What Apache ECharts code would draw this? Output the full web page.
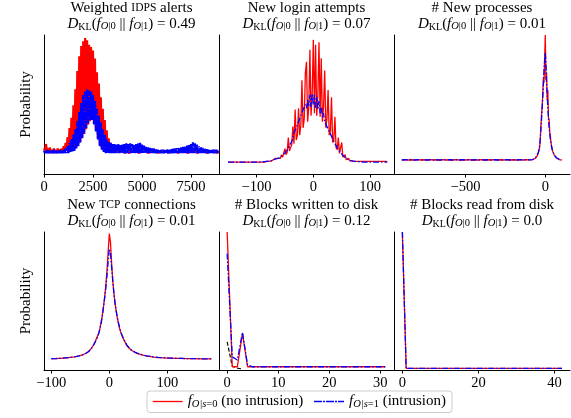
<!DOCTYPE html>
<html><head><meta charset="utf-8">
<script src="https://cdn.jsdelivr.net/npm/echarts@6/dist/echarts.min.js"></script>
<style>html,body{margin:0;padding:0;background:#fff}#c{width:571px;height:418px}</style>
</head><body><div id="c"></div>
<script>
// ---------------- DATA ----------------
// helper for regular bin positions (x grid only)
function bins(start, step, n){ const a=[]; for(let i=0;i<n;i++) a.push(start+step*i); return a; }

// Panel 1: Weighted IDPS alerts (bins of 50, 0..8900)
const p1X = bins(0, 50, 179);
const p1Red = [
 0.03,0.00,0.07,0.01,0.03,-0.01,0.04,0.00,0.02,-0.01,0.03,0.00,0.02,-0.01,0.03,0.00,0.02,0.00,0.03,0.00,
 0.05,0.00,0.08,0.01,0.13,0.00,0.21,0.01,0.30,0.02,0.41,0.03,0.55,0.05,0.71,0.07,0.84,0.09,0.93,0.12,
 0.97,0.16,1.00,0.20,0.98,0.24,0.94,0.27,0.92,0.28,0.89,0.25,0.82,0.19,0.70,0.12,0.60,0.06,0.48,0.03,
 0.38,0.01,0.28,0.00,0.19,0.00,0.12,0.00,0.08,0.00,0.05,0.00,0.03,0.00,0.02,0.00,0.02,0.00,0.01,0.00,
 0.01,0.00,0.01,-0.01,0.01,0.00,0.01,-0.01,0.01,0.00,0.01,0.00,0.01,-0.01,0.01,0.00,0.01,-0.01,0.01,0.00,
 0.01,0.00,0.01,-0.01,0.01,0.00,0.01,-0.01,0.01,0.00,0.01,0.00,0.01,-0.01,0.01,0.00,0.01,-0.01,0.01,0.00,
 0.01,0.00,0.01,-0.01,0.01,0.00,0.01,-0.01,0.01,0.00,0.01,0.00,0.01,-0.01,0.01,0.00,0.01,-0.01,0.01,0.00,
 0.01,0.00,0.01,-0.01,0.01,0.00,0.01,-0.01,0.01,0.00,0.01,0.00,0.01,-0.01,0.01,0.00,0.01,-0.01,0.01,0.00,
 0.01,0.00,0.01,-0.01,0.01,0.00,0.01,-0.01,0.01,0.00,0.01,0.00,0.01,-0.01,0.01,0.00,0.01,-0.01,0.01
];
const p1Blue = [
 0.01,-0.01,0.01,-0.01,0.02,-0.01,0.01,-0.01,0.01,-0.01,0.02,-0.01,0.01,-0.01,0.01,-0.01,0.02,-0.01,0.01,-0.01,
 0.02,-0.01,0.03,-0.01,0.05,-0.01,0.08,0.00,0.11,0.00,0.15,0.01,0.20,0.03,0.27,0.05,0.35,0.08,0.43,0.12,
 0.50,0.16,0.53,0.21,0.55,0.25,0.54,0.28,0.53,0.28,0.50,0.24,0.45,0.18,0.38,0.11,0.32,0.05,0.26,0.02,
 0.20,0.00,0.15,-0.01,0.11,-0.01,0.09,-0.01,0.08,-0.01,0.07,-0.01,0.07,-0.01,0.065,-0.01,0.07,-0.01,0.06,-0.01,
 0.065,-0.01,0.07,-0.01,0.075,-0.01,0.07,-0.01,0.075,-0.01,0.07,-0.01,0.065,-0.01,0.07,-0.01,0.075,-0.01,0.08,-0.01,
 0.065,-0.01,0.055,-0.01,0.045,-0.01,0.04,-0.01,0.035,-0.01,0.03,-0.01,0.03,-0.01,0.025,-0.01,0.02,-0.01,0.018,-0.01,
 0.02,-0.01,0.018,-0.01,0.02,-0.01,0.022,-0.01,0.02,-0.01,0.025,-0.01,0.028,-0.01,0.03,-0.01,0.032,-0.01,0.035,-0.01,
 0.04,-0.01,0.045,-0.01,0.05,-0.01,0.055,-0.01,0.06,-0.01,0.07,-0.01,0.085,-0.01,0.075,-0.01,0.065,-0.01,0.05,-0.01,
 0.045,-0.01,0.035,-0.01,0.03,-0.01,0.025,-0.01,0.02,-0.01,0.02,-0.01,0.018,-0.01,0.02,-0.01,0.02,-0.01,0.02
];

// Panel 2: New login attempts (bins of 2, -150..130)
const p2X = bins(-150, 2, 141);
const p2Red = [
 0.00,0.01,0.00,0.005,0.00,0.01,0.00,0.005,0.00,0.01,0.00,0.005,0.00,0.01,0.00,0.005,0.00,0.01,0.00,0.005,
 0.00,0.01,0.00,0.005,0.00,0.01,0.00,0.005,0.00,0.01,0.00,0.005,0.00,0.01,0.005,0.01,0.005,0.015,0.01,0.015,
 0.02,0.01,0.03,0.02,0.03,0.04,0.03,0.06,0.04,0.05,
 0.11,0.06,0.08,0.20,0.09,0.12,0.14,0.29,0.15,0.43,
 0.18,0.22,0.44,0.22,0.30,0.67,0.28,0.35,0.73,0.82,
 0.33,0.45,0.92,0.38,0.55,1.00,0.40,0.96,0.38,0.55,
 0.98,0.37,0.85,0.33,0.45,0.75,0.28,0.35,0.59,0.22,
 0.25,0.53,0.16,0.18,0.37,0.12,0.10,0.20,0.07,0.06,
 0.16,0.04,0.04,0.06,0.02,0.02,0.03,0.01,0.01,0.01,
 0.01,0.005,0.00,0.005,0.00,0.005,0.00,0.005,0.00,0.005,0.00,0.005,0.00,0.005,0.00,0.005,
 0.00,0.005,0.00,0.005,0.00,0.005,0.00,0.005,0.00,0.005,0.00,0.005,0.00,0.005,0.00
];
const p2Blue = [
 0.00,0.003,0.00,0.003,0.00,0.003,0.00,0.003,0.00,0.003,0.00,0.003,0.00,0.003,0.00,0.003,0.00,0.003,0.00,0.003,
 0.00,0.003,0.00,0.003,0.00,0.003,0.00,0.003,0.00,0.004,0.002,0.005,0.004,0.006,0.006,0.01,0.008,0.012,0.01,0.015,
 0.02,0.02,0.025,0.03,0.03,0.035,0.04,0.05,0.055,0.065,
 0.075,0.09,0.10,0.12,0.13,0.15,0.17,0.19,0.24,0.24,
 0.28,0.29,0.33,0.34,0.38,0.39,0.43,0.42,0.47,0.44,
 0.51,0.46,0.55,0.45,0.56,0.47,0.55,0.44,0.53,0.43,
 0.50,0.40,0.45,0.37,0.40,0.33,0.34,0.29,0.28,0.25,
 0.24,0.21,0.19,0.17,0.15,0.14,0.12,0.11,0.09,0.08,
 0.065,0.055,0.045,0.035,0.03,0.025,0.02,0.015,0.012,0.01,
 0.008,0.006,0.005,0.004,0.003,0.003,0.002,0.003,0.00,0.003,0.00,0.003,0.00,0.003,0.00,0.003,
 0.00,0.003,0.00,0.003,0.00,0.003,0.00,0.003,0.00,0.003,0.00,0.003,0.00,0.003,0.00
];

// Panel 3: # New processes (tail bins of 20, core bins of 4)
const p3X = bins(-900, 20, 42).concat(bins(-76, 4, 46));
const p3Red = [
 0.00,0.003,0.00,0.002,0.00,0.003,0.00,0.002,0.00,0.003,0.00,0.002,0.00,0.003,0.00,0.002,0.00,0.003,0.00,0.002,
 0.00,0.003,0.00,0.002,0.00,0.003,0.00,0.002,0.00,0.003,0.00,0.002,0.00,0.003,0.00,0.002,0.00,0.003,0.00,0.002,0.001,0.003,
 0.004,0.006,0.008,0.012,0.016,0.022,0.03,0.04,0.056,0.075,
 0.10,0.15,0.26,0.36,0.42,0.52,0.66,0.62,0.82,1.00,
 0.64,0.70,0.48,0.56,0.34,0.32,0.22,0.19,0.14,0.11,
 0.085,0.065,0.05,0.04,0.03,0.024,0.018,0.014,0.01,0.007,
 0.005,0.003,0.002,0.001,0.001,0.00
];
const p3Blue = [
 0.00,0.002,0.00,0.002,0.00,0.002,0.00,0.002,0.00,0.002,0.00,0.002,0.00,0.002,0.00,0.002,0.00,0.002,0.00,0.002,
 0.00,0.002,0.00,0.002,0.00,0.002,0.00,0.002,0.00,0.002,0.00,0.002,0.00,0.002,0.00,0.002,0.00,0.002,0.00,0.002,0.001,0.003,
 0.005,0.007,0.01,0.014,0.02,0.026,0.034,0.045,0.06,0.08,
 0.11,0.16,0.24,0.31,0.40,0.50,0.60,0.72,0.80,0.86,
 0.78,0.62,0.52,0.42,0.33,0.26,0.21,0.16,0.13,0.10,
 0.08,0.065,0.052,0.042,0.034,0.027,0.021,0.016,0.012,0.009,
 0.006,0.004,0.003,0.002,0.001,0.00
];

// Panel 4: New TCP connections
const p4X = bins(-100, 4, 16).concat(bins(-38, 2, 40), bins(44, 4, 34));
const p4Red = [
 0.004,0.006,0.005,0.008,0.007,0.01,0.012,0.012,0.015,0.018,0.02,0.024,0.028,0.034,0.04,0.05,
 0.055,0.062,0.07,0.08,0.095,0.11,0.12,0.145,0.16,0.19,
 0.21,0.25,0.30,0.35,0.42,0.50,0.59,0.71,0.86,1.00,
 0.93,0.76,0.62,0.52,0.44,0.38,0.32,0.28,0.24,0.21,
 0.19,0.165,0.15,0.13,0.11,0.10,0.09,0.08,0.072,0.066,
 0.056,0.048,0.042,0.036,0.031,0.027,0.024,0.021,0.018,0.016,
 0.014,0.013,0.012,0.011,0.01,0.009,0.009,0.008,0.008,0.007,
 0.007,0.006,0.006,0.006,0.005,0.005,0.005,0.004,0.004,0.004,
 0.004,0.003,0.003,0.003
];
const p4Blue = [
 0.005,0.005,0.006,0.007,0.008,0.009,0.011,0.013,0.015,0.017,0.02,0.023,0.027,0.032,0.04,0.048,
 0.054,0.06,0.068,0.078,0.09,0.105,0.12,0.14,0.16,0.18,
 0.21,0.245,0.29,0.35,0.42,0.49,0.57,0.67,0.78,0.88,
 0.84,0.73,0.62,0.52,0.44,0.38,0.33,0.285,0.245,0.215,
 0.19,0.17,0.15,0.135,0.115,0.10,0.092,0.082,0.074,0.067,
 0.057,0.049,0.043,0.037,0.032,0.028,0.025,0.022,0.019,0.017,
 0.015,0.014,0.013,0.012,0.011,0.01,0.009,0.009,0.008,0.008,
 0.007,0.007,0.006,0.006,0.006,0.005,0.005,0.005,0.005,0.004,
 0.004,0.004,0.004,0.004
];

// Panel 5: # Blocks written to disk
const p5X = bins(0, 1, 32);
const p5Red  = [1.0,0.0,0.0,0.247,0.0,0,0,0,0,0,0,0,0,0,0,0,0,0,0,0,0,0,0,0,0,0,0,0,0,0,0,0];
const p5Blue = [0.84,0.074,0.05,0.255,0.012,0,0,0,0,0,0,0,0,0,0,0,0,0,0,0,0,0,0,0,0,0,0,0,0,0,0,0];
const p5BlackX = [0,1,2,3];
const p5Black = [0.185,0.004,-0.01,-0.017];

// Panel 6: # Blocks read from disk
const p6X = bins(0, 1, 43);
const p6Red  = [1.0,0,0,0,0,0,0,0,0,0,0,0,0,0,0,0,0,0,0,0,0,0,0,0,0,0,0,0,0,0,0,0,0,0,0,0,0,0,0,0,0,0,0];
const p6Blue = [1.0,0,0,0,0,0,0,0,0,0,0,0,0,0,0,0,0,0,0,0,0,0,0,0,0,0,0,0,0,0,0,0,0,0,0,0,0,0,0,0,0,0,0];

// tick labels
const p1Ticks = [0,2500,5000,7500];
const p2Ticks = [-100,0,100];
const p3Ticks = [-500,0];
const p4Ticks = [-100,0,100];
const p5Ticks = [0,10,20,30];
const p6Ticks = [0,20,40];

// titles / KL values
const titlesA = ['Weighted ', 'New login attempts', '# New processes', 'New ', '# Blocks written to disk', '# Blocks read from disk'];
const titlesSC = ['IDPS', '', '', 'TCP', '', ''];
const titlesB = [' alerts', '', '', ' connections', '', ''];
const dklValues = ['0.49', '0.07', '0.01', '0.01', '0.12', '0.0'];

// ---------------- LAYOUT ----------------
const FONT = "'Liberation Serif', 'DejaVu Serif', serif";
const panels = [
 {x:p1X, r:p1Red, b:p1Blue, ticks:p1Ticks, grid:{left:44, top:35, width:175, height:139}, xmin:0, xmax:8930, ymin:-0.193, ymax:1.026, ylab:true, w:2.2, dense:true},
 {x:p2X, r:p2Red, b:p2Blue, ticks:p2Ticks, grid:{left:219, top:35, width:175, height:139}, xmin:-166, xmax:142, ymin:-0.098, ymax:1.04, w:1.3},
 {x:p3X, r:p3Red, b:p3Blue, ticks:p3Ticks, grid:{left:394, top:35, width:176, height:139}, xmin:-949, xmax:155, ymin:-0.112, ymax:1.0, w:1.3},
 {x:p4X, r:p4Red, b:p4Blue, ticks:p4Ticks, grid:{left:44, top:232, width:175, height:138}, xmin:-112.6, xmax:189, ymin:-0.085, ymax:1.013, ylab:true, w:1.3},
 {x:p5X, r:p5Red, b:p5Blue, ticks:p5Ticks, grid:{left:219, top:232, width:175, height:138}, xmin:-1.6, xmax:32.7, ymin:-0.024, ymax:1.0, w:1.3},
 {x:p6X, r:p6Red, b:p6Blue, ticks:p6Ticks, grid:{left:394, top:232, width:176, height:138}, xmin:-2.2, xmax:44.1, ymin:-0.012, ymax:1.0, w:1.3}
];
const zip = (xs, ys) => xs.map((v, i) => [v, ys[i]]);
const minus = v => String(v).replace('-', '\u2212');

const richT = {
  t:  {fontFamily:FONT, fontSize:15, color:'#000', lineHeight:16},
  sc: {fontFamily:FONT, fontSize:11.5, color:'#000', lineHeight:16},
  i:  {fontFamily:FONT, fontSize:15, fontStyle:'italic', color:'#000', lineHeight:16},
  kl: {fontFamily:FONT, fontSize:10, color:'#000', verticalAlign:'bottom', lineHeight:16},
  s:  {fontFamily:FONT, fontSize:10.5, fontStyle:'italic', color:'#000', verticalAlign:'bottom', lineHeight:16},
  sr: {fontFamily:FONT, fontSize:10.5, color:'#000', verticalAlign:'bottom', lineHeight:16}
};

const grids=[], xAxes=[], yAxes=[], series=[], titles=[];
panels.forEach((p, k) => {
  grids.push(Object.assign({containLabel:false}, p.grid));
  xAxes.push({gridIndex:k, type:'value', min:p.xmin, max:p.xmax,
    axisLine:{show:true, onZero:false, lineStyle:{color:'#000', width:1}},
    axisTick:{show:true, length:3.5, customValues:p.ticks, lineStyle:{color:'#000', width:1}},
    axisLabel:{customValues:p.ticks, margin:6, color:'#000', fontFamily:FONT, fontSize:14.5, formatter:minus},
    splitLine:{show:false}});
  yAxes.push({gridIndex:k, type:'value', min:p.ymin, max:p.ymax,
    axisLine:{show:true, onZero:false, lineStyle:{color:'#000', width:1}},
    axisTick:{show:false}, axisLabel:{show:false}, splitLine:{show:false},
    name: p.ylab ? 'Probability' : '', nameLocation:'middle', nameGap:10,
    nameTextStyle:{fontFamily:FONT, fontSize:15, color:'#000'}});
  series.push({name:'no intrusion', type:'line', xAxisIndex:k, yAxisIndex:k, data:zip(p.x, p.r),
    symbol:'none', lineStyle:{color:'#ff0000', width:p.w}, itemStyle:{color:'#ff0000'}, z:2});
  series.push({name:'intrusion', type:'line', xAxisIndex:k, yAxisIndex:k, data:zip(p.x, p.b),
    symbol:'none', lineStyle:{color:'#0000ff', width:p.w, type: p.dense ? [8,1,2,1] : [6,2,1.5,2]}, itemStyle:{color:'#0000ff'}, z:3});
  const cx = p.grid.left + p.grid.width/2;
  let line1 = '{t|' + titlesA[k] + '}';
  if (titlesSC[k]) line1 += '{sc|' + titlesSC[k] + '}{t|' + titlesB[k] + '}';
  const line2 = '{i|D}{kl|KL}{t|(}{i|f}{s|O}{sr||0}{t| || }{i|f}{s|O}{sr||1}{t|) = ' + dklValues[k] + '}';
  titles.push({text: line1 + '\n' + line2, left: cx, top: k < 3 ? 0 : 197, textAlign:'center', padding:0, itemGap:0,
    textStyle:{fontFamily:FONT, fontSize:15, color:'#000', fontWeight:'normal', lineHeight:16, rich:richT}});
});
series.push({name:'dkl-ref', type:'line', xAxisIndex:4, yAxisIndex:4, data:zip(p5BlackX, p5Black),
  symbol:'none', lineStyle:{color:'#000', width:1.2, type:[4,2]}, z:1});

const legendNames = {'no intrusion':'{i|f}{s|O|s}{sr|=0}{t| (no intrusion)}', 'intrusion':'{i|f}{s|O|s}{sr|=1}{t| (intrusion)}'};
const chart = echarts.init(document.getElementById('c'), null, {renderer:'canvas'});
chart.setOption({
  animation:false, backgroundColor:'#fff',
  textStyle:{fontFamily:FONT},
  title: titles, grid: grids, xAxis: xAxes, yAxis: yAxes, series: series,
  legend: {data:['no intrusion','intrusion'], left:147, top:391, padding:[3,6,3,5], itemGap:10, itemWidth:30, itemHeight:12,
    borderColor:'#ccc', borderWidth:1, borderRadius:3, selectedMode:false,
    itemStyle:{opacity:0}, lineStyle:{width:1.3},
    formatter: n => legendNames[n], textStyle:{fontFamily:FONT, fontSize:15, color:'#000', rich:richT}}
});
</script></body></html>
